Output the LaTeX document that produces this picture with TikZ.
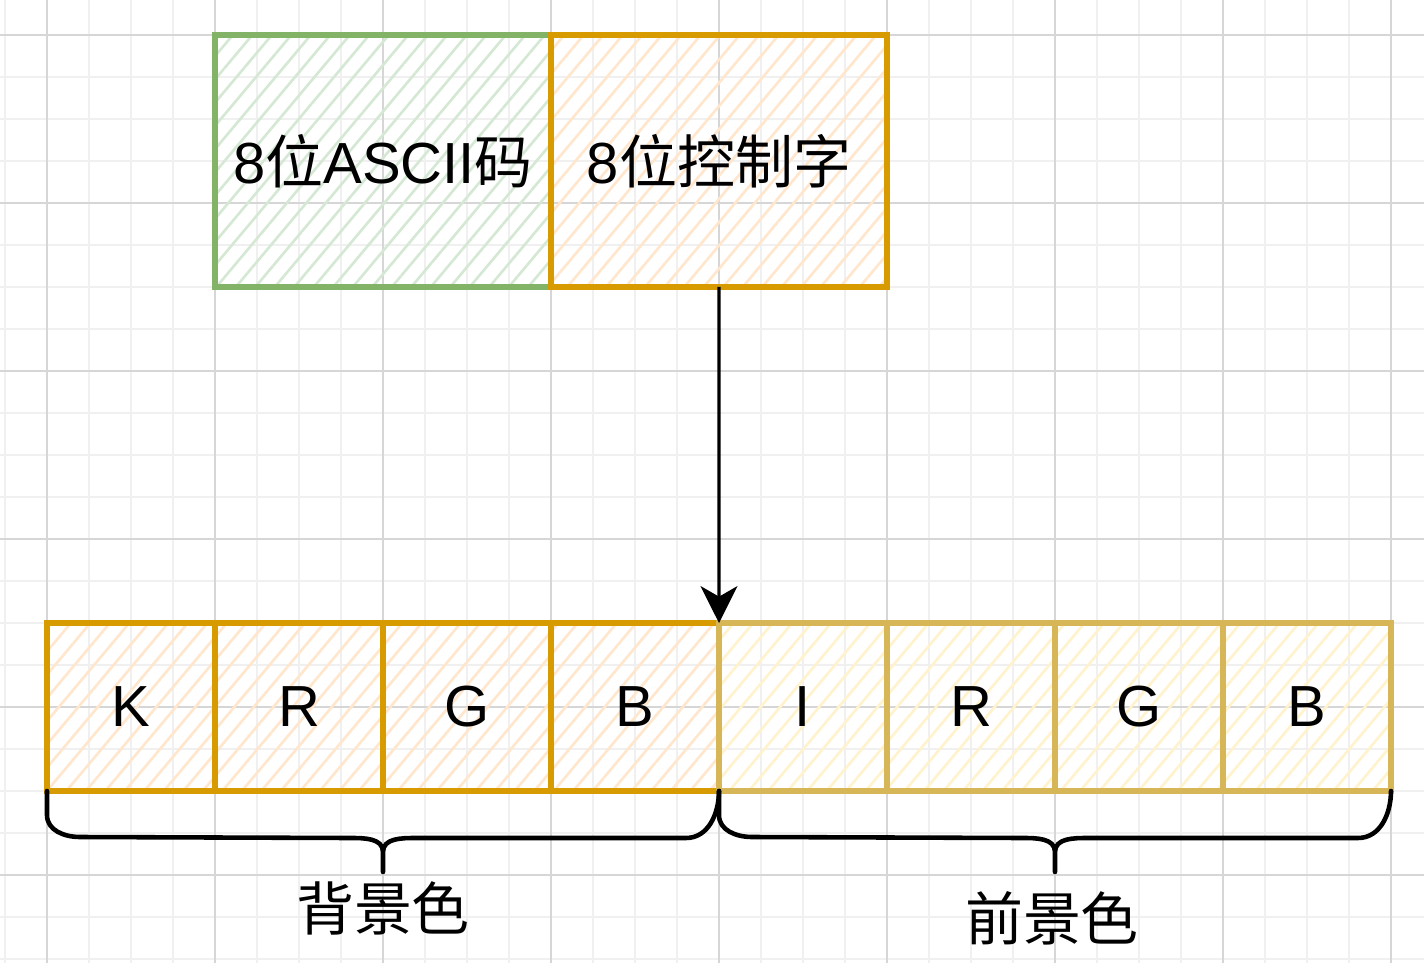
\documentclass[tikz,border=0pt]{standalone}
\usepackage{fontspec}
\setmainfont{Liberation Sans}
\newfontfamily\cjk{Noto Sans CJK SC}
\usetikzlibrary{arrows.meta, patterns.meta}
\definecolor{gridmajor}{HTML}{D6D6D6}
\definecolor{gridminor}{HTML}{F0F0F0}
\definecolor{greenline}{HTML}{82B366}
\definecolor{greenfill}{HTML}{D5E8D4}
\definecolor{orangeline}{HTML}{D79B00}
\definecolor{orangefill}{HTML}{FFE6CC}
\definecolor{yellowline}{HTML}{D6B656}
\definecolor{yellowfill}{HTML}{FFF2CC}
\tikzstyle{every node}=[font=\fontsize{33}{40}\selectfont, inner sep=0pt, outer sep=0pt]
\tikzstyle{hatch}=[pattern={Lines[angle=50, distance=8.5pt, line width=1.5pt]}]
\tikzstyle{word}=[draw, line width=3pt, hatch, minimum width=6.72cm, minimum height=5.04cm]
\tikzstyle{bit}=[draw, line width=3pt, hatch, minimum width=3.36cm, minimum height=3.36cm]
\tikzstyle{bgbit}=[bit, draw=orangeline, pattern color=orangefill]
\tikzstyle{fgbit}=[bit, draw=yellowline, pattern color=yellowfill]
\tikzstyle{brace}=[line width=2.6pt, line cap=round, line join=round]

\begin{document}
\begin{tikzpicture}[x=0.02cm, y=-0.02cm]
    \useasboundingbox (0,0) rectangle (1424,963);
% Grid
    \foreach \x in {5,47,...,1391} \draw[gridminor, line width=0.6pt] (\x,0) -- (\x,963);
    \foreach \y in {35,77,...,959} \draw[gridminor, line width=0.6pt] (0,\y) -- (1424,\y);
    \foreach \x in {47,215,...,1391} \draw[gridmajor, line width=0.6pt] (\x,0) -- (\x,963);
    \foreach \y in {35,203,...,875} \draw[gridmajor, line width=0.6pt] (0,\y) -- (1424,\y);
% Character word
    \node[word, draw=greenline, pattern color=greenfill] (ascii) at (383,161) {8{\cjk 位}ASCII{\cjk 码}};
    \node[word, draw=orangeline, pattern color=orangefill] (ctrl) at (719,161) {8{\cjk 位控制字}};
% Control bits
    \node[bgbit] (K) at (131,707) {K};
    \node[bgbit] (bgR) at (299,707) {R};
    \node[bgbit] (bgG) at (467,707) {G};
    \node[bgbit] (bgB) at (635,707) {B};
    \node[fgbit] (I) at (803,707) {I};
    \node[fgbit] (fgR) at (971,707) {R};
    \node[fgbit] (fgG) at (1139,707) {G};
    \node[fgbit] (fgB) at (1307,707) {B};
% Arrow
    \draw[-{Stealth[length=21pt, width=21pt, inset=6pt]}, line width=1.8pt] (ctrl.south) -- (I.north west);
% Braces
    \draw[brace] (K.south west) -- (47,815) to[out=-90, in=180] (80,837) -- (350,838)
        to[out=0, in=90] (383,852) -- (383,872) -- (383,852)
        to[out=90, in=180] (416,838) -- (686,838) to[out=0, in=-90] (bgB.south east);
    \draw[brace] (I.south west) -- (719,815) to[out=-90, in=180] (752,837) -- (1022,838)
        to[out=0, in=90] (1055,852) -- (1055,872) -- (1055,852)
        to[out=90, in=180] (1088,838) -- (1358,838) to[out=0, in=-90] (fgB.south east);
    \node (bgtext) at (383,908) {\cjk 背景色};
    \node (fgtext) at (1052,918) {\cjk 前景色};
\end{tikzpicture}
\end{document}
